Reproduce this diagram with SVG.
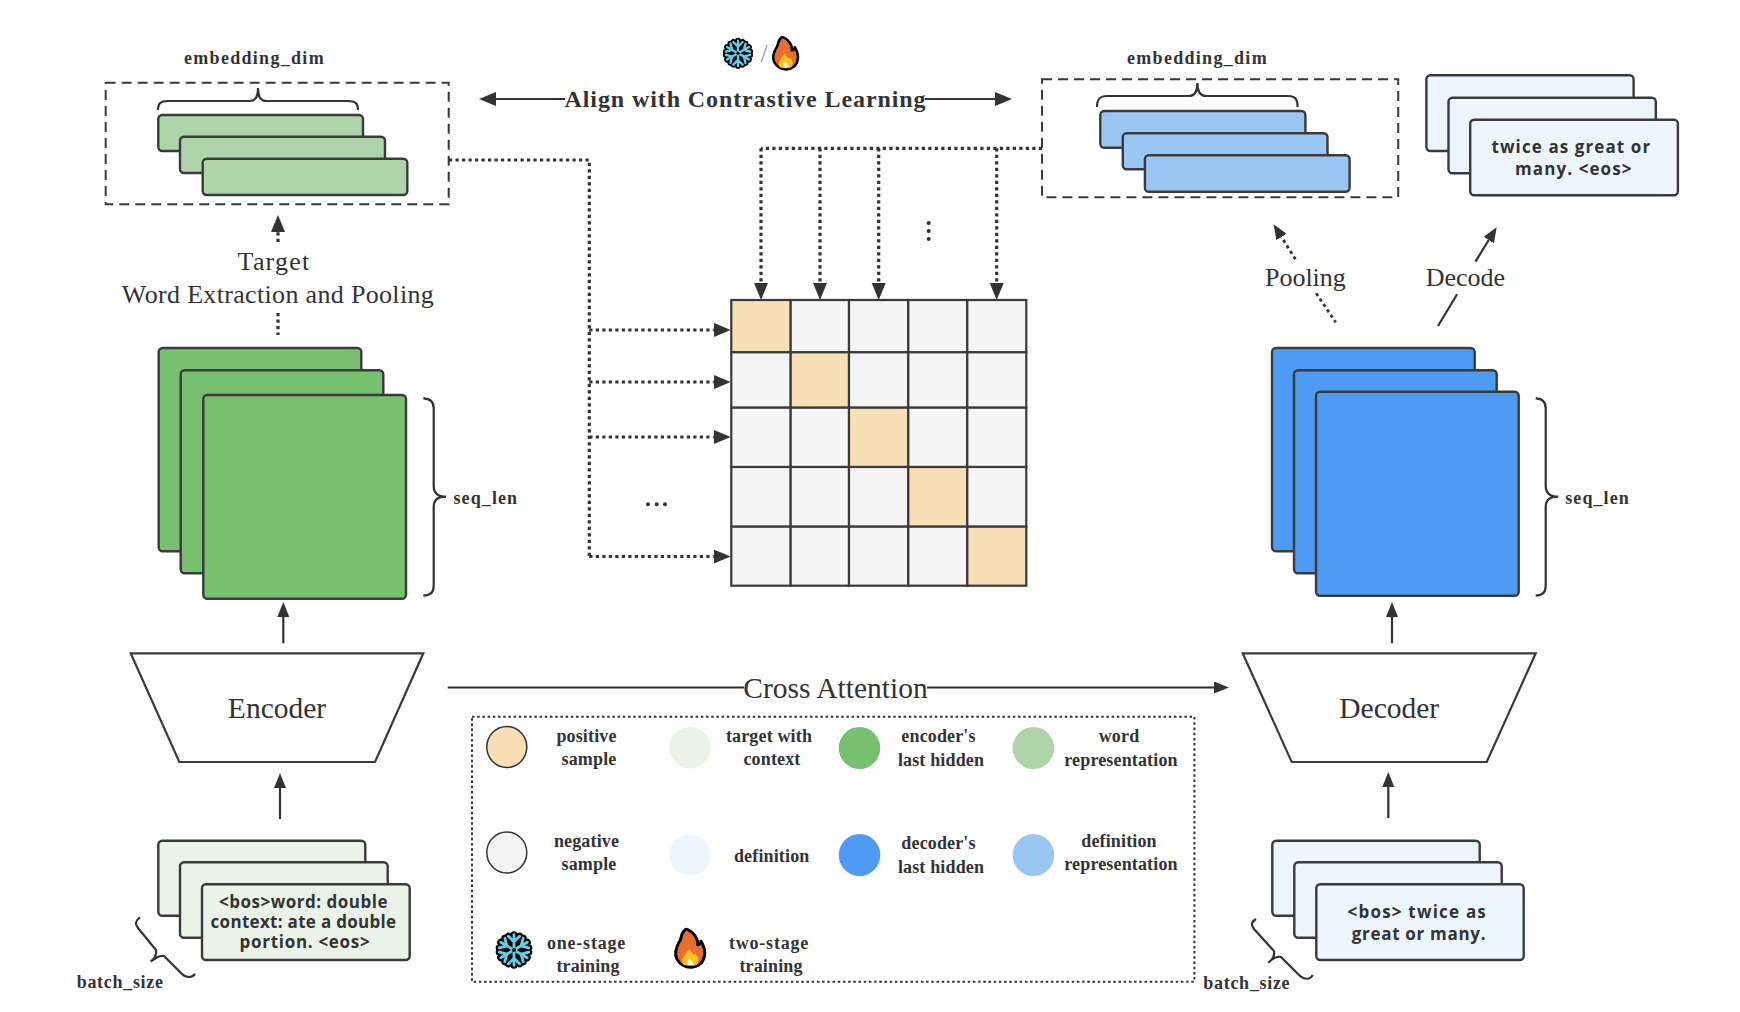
<svg xmlns="http://www.w3.org/2000/svg" width="1740" height="1012" viewBox="0 0 1740 1012">
<style>
text{font-family:"Liberation Serif","Times New Roman",serif;fill:#333}
.b{font-weight:bold;font-size:18px;letter-spacing:1.3px}
.lg{font-weight:bold;font-size:18px;letter-spacing:.15px;text-anchor:middle}
.t{font-size:26px;text-anchor:middle}
.big{font-size:29.5px;text-anchor:middle}
.s{font-family:"Open Sans","Noto Sans",sans-serif;font-weight:bold;font-size:17px;letter-spacing:.7px;text-anchor:middle}
.r{stroke:#3a3a3a;stroke-width:2.4}
.line{fill:none;stroke:#333;stroke-width:2.2}
.dot{fill:none;stroke:#333;stroke-width:3.2;stroke-dasharray:3.2 3.3}
.brace{fill:none;stroke:#333;stroke-width:2.2}
.dash{fill:none;stroke:#3a3a3a;stroke-width:2;stroke-dasharray:10 6}
.trap{fill:#fff;stroke:#3a3a3a;stroke-width:2.2}
.pos{fill:#f9dfb6}.neg{fill:#f5f5f5}.ctx{fill:#ebf3e9}.enc{fill:#76c06f}.wrd{fill:#add5a9}.def{fill:#edf5fe}.dec{fill:#4d9bf2}.drp{fill:#9ac6f3}
.cell{stroke:#3a3a3a;stroke-width:2.2}
</style>
<defs>
<marker id="arr" markerUnits="userSpaceOnUse" markerWidth="20" markerHeight="16" refX="0" refY="7" orient="auto"><path d="M0,0L17,7L0,14z" fill="#333"/></marker>
<marker id="arrS" markerUnits="userSpaceOnUse" markerWidth="18" markerHeight="14" refX="0" refY="6" orient="auto"><path d="M0,0L15,6L0,12z" fill="#333"/></marker>
<g id="armB"><path d="M0,-15V15M-5.500,-13.500L0,-8L5.500,-13.500M-5.500,13.500L0,8L5.500,13.500"/></g>
<g id="snow">
<g fill="none" stroke="#000" stroke-width="7" stroke-linecap="round" stroke-linejoin="round">
<use href="#armB"/><use href="#armB" transform="rotate(60)"/><use href="#armB" transform="rotate(120)"/>
</g>
<circle r="10" fill="#000"/>
<g fill="none" stroke="#5fd0ea" stroke-width="2.800" stroke-linecap="round">
<use href="#armB"/><use href="#armB" transform="rotate(60)"/><use href="#armB" transform="rotate(120)"/>
</g>
<circle r="2" fill="#000"/>
</g>
<g id="fire" transform="scale(1.15,1)">
<path d="M-3,-19C-9,-14-6,-9-9,-6C-12,0-13,6-11,11C-8,17-3,19.500,1,19.500C7,19.500,12,15,13,8C14,3,12,-3,10,-7C10,-4,8,-3,7,-3C8,-9,3,-17,-3,-19Z" fill="#e76f2e" stroke="#000" stroke-width="2.600" stroke-linejoin="round"/>
<path d="M0,1C-5,7-8,12-5,17L6,17C9,13,8,8,5,6C3,7,2,5,0,1Z" fill="#fcc21b"/>
<path d="M0,10C-2,12-3,15-1,17L3,17C4,15,2,12,0,10Z" fill="#fff6cc"/>
</g>
</defs>
<rect width="1740" height="1012" fill="#fff"/>

<g id="connectors">
<path class="dot" d="M449,160H589.300V557"/>
<path class="dot" d="M589.300,330H713.700" marker-end="url(#arr)"/>
<path class="dot" d="M589.300,382H713.700" marker-end="url(#arr)"/>
<path class="dot" d="M589.300,437H713.700" marker-end="url(#arr)"/>
<path class="dot" d="M589.300,556.500H713.700" marker-end="url(#arr)"/>
<path class="dot" d="M1042,148.300H761"/>
<path class="dot" d="M761,148.300V283" marker-end="url(#arr)"/>
<path class="dot" d="M820,148.300V283" marker-end="url(#arr)"/>
<path class="dot" d="M878.700,148.300V283" marker-end="url(#arr)"/>
<path class="dot" d="M996.700,148.300V283" marker-end="url(#arr)"/>
<path class="line" d="M565,99H496" marker-end="url(#arr)"/>
<path class="line" d="M925,99H995" marker-end="url(#arr)"/>
<path class="dot" d="M278,242V232" marker-end="url(#arr)"/>
<path class="dot" d="M278,313V335"/>
<path class="line" d="M283.300,643.300V617" marker-end="url(#arrS)"/>
<path class="line" d="M1392,643.300V617" marker-end="url(#arrS)"/>
<path class="line" d="M280,819V788" marker-end="url(#arrS)"/>
<path class="line" d="M1388.300,818V787" marker-end="url(#arrS)"/>
<path class="line" d="M447.700,687.500H744"/>
<path class="line" d="M927,687.500H1214" marker-end="url(#arrS)"/>
<path class="dot" style="stroke-width:2.800" d="M1295.400,259.300L1281.500,237" marker-end="url(#arrS)"/>
<path class="dot" style="stroke-width:2.800" d="M1316.200,293.300L1335.700,322.300"/>
<path class="line" d="M1475.400,261.700L1488.800,240" marker-end="url(#arrS)"/>
<path class="line" d="M1457.100,294.300L1438,326"/>
</g>

<g id="target-embeddings">
<text class="b" x="184" y="64">embedding_dim</text>
<rect class="dash" x="105.700" y="82.700" width="343" height="121.600"/>
<path class="brace" d="M158,110C158,103,161,101,168,101L250,101C255,101,258,97,258,88C258,97,261,101,266,101L348,101C355,101,358,103,358,110"/>
<rect class="r wrd" x="158.300" y="115" width="204.700" height="36" rx="4"/>
<rect class="r wrd" x="180" y="136.700" width="205" height="36.300" rx="4"/>
<rect class="r wrd" x="202.700" y="158.700" width="204.600" height="36.300" rx="4"/>
</g>

<g id="definition-embeddings">
<text class="b" x="1127" y="63.500">embedding_dim</text>
<rect class="dash" x="1042" y="79.300" width="356.200" height="118"/>
<path class="brace" d="M1097,107C1097,99,1100,96,1107,96L1189,96C1194,96,1197.400,92,1197.400,83C1197.400,92,1201,96,1206,96L1288,96C1295,96,1297.600,99,1297.600,107"/>
<rect class="r drp" x="1100.300" y="111" width="205.100" height="36.700" rx="4"/>
<rect class="r drp" x="1122.800" y="133.300" width="204.700" height="36" rx="4"/>
<rect class="r drp" x="1144.900" y="155.300" width="204.700" height="36.400" rx="4"/>
</g>

<g id="output-definition">
<rect class="r def" x="1426.400" y="75.300" width="207.200" height="75.700" rx="4"/>
<rect class="r def" x="1448.500" y="97.700" width="207.300" height="75.600" rx="4"/>
<rect class="r def" x="1470.200" y="119.700" width="207.700" height="75.600" rx="4"/>
<text class="s" style="letter-spacing:1.1px" x="1571.400" y="152.700">twice as great or</text>
<text class="s" style="letter-spacing:1.1px" x="1573.800" y="174.700">many. &lt;eos&gt;</text>
</g>

<g id="title">
<use href="#snow" transform="translate(738,53.300) scale(.84)"/>
<text x="764" y="62" font-size="26" text-anchor="middle" style="fill:#999">/</text>
<use href="#fire" transform="translate(785,53) scale(.85)"/>
<text x="745.500" y="107" font-size="24" font-weight="bold" text-anchor="middle" letter-spacing=".9">Align with Contrastive Learning</text>
</g>

<g id="similarity-matrix">
<rect class="cell pos" x="731.300" y="300" width="59.400" height="52.300"/>
<rect class="cell neg" x="790.700" y="300" width="58.300" height="52.300"/>
<rect class="cell neg" x="849" y="300" width="59.300" height="52.300"/>
<rect class="cell neg" x="908.300" y="300" width="59" height="52.300"/>
<rect class="cell neg" x="967.300" y="300" width="59" height="52.300"/>
<rect class="cell neg" x="731.300" y="352.300" width="59.400" height="55.400"/>
<rect class="cell pos" x="790.700" y="352.300" width="58.300" height="55.400"/>
<rect class="cell neg" x="849" y="352.300" width="59.300" height="55.400"/>
<rect class="cell neg" x="908.300" y="352.300" width="59" height="55.400"/>
<rect class="cell neg" x="967.300" y="352.300" width="59" height="55.400"/>
<rect class="cell neg" x="731.300" y="407.700" width="59.400" height="59.300"/>
<rect class="cell neg" x="790.700" y="407.700" width="58.300" height="59.300"/>
<rect class="cell pos" x="849" y="407.700" width="59.300" height="59.300"/>
<rect class="cell neg" x="908.300" y="407.700" width="59" height="59.300"/>
<rect class="cell neg" x="967.300" y="407.700" width="59" height="59.300"/>
<rect class="cell neg" x="731.300" y="467" width="59.400" height="59.700"/>
<rect class="cell neg" x="790.700" y="467" width="58.300" height="59.700"/>
<rect class="cell neg" x="849" y="467" width="59.300" height="59.700"/>
<rect class="cell pos" x="908.300" y="467" width="59" height="59.700"/>
<rect class="cell neg" x="967.300" y="467" width="59" height="59.700"/>
<rect class="cell neg" x="731.300" y="526.700" width="59.400" height="59"/>
<rect class="cell neg" x="790.700" y="526.700" width="58.300" height="59"/>
<rect class="cell neg" x="849" y="526.700" width="59.300" height="59"/>
<rect class="cell neg" x="908.300" y="526.700" width="59" height="59"/>
<rect class="cell pos" x="967.300" y="526.700" width="59" height="59"/>
<g fill="#333"><circle cx="928.700" cy="223" r="2"/><circle cx="928.700" cy="231" r="2"/><circle cx="928.700" cy="239" r="2"/>
<circle cx="648" cy="504.300" r="2"/><circle cx="656.700" cy="504.300" r="2"/><circle cx="665" cy="504.300" r="2"/></g>
</g>

<g id="labels">
<text class="t" style="letter-spacing:1.2px" x="274" y="270">Target</text>
<text class="t" style="letter-spacing:.33px" x="278" y="303">Word Extraction and Pooling</text>
<text class="t" x="1305.400" y="286">Pooling</text>
<text class="t" x="1465.400" y="286">Decode</text>
<text class="big" x="835.500" y="698">Cross Attention</text>
</g>

<g id="encoder-hidden">
<rect class="r enc" x="158.700" y="348" width="202.600" height="203.300" rx="4"/>
<rect class="r enc" x="180.700" y="370.300" width="202.600" height="203" rx="4"/>
<rect class="r enc" x="203.300" y="395" width="202.700" height="203.700" rx="4"/>
<path class="brace" d="M423.300,398.300C430,398.500,433.700,401,433.700,408L433.700,486C433.700,493,438,496.700,446,496.700C438,496.700,433.700,500,433.700,507L433.700,586C433.700,593,430,595.500,423.300,595.700"/>
<text class="b" style="letter-spacing:1.1px" x="453.500" y="504">seq_len</text>
</g>

<g id="decoder-hidden">
<rect class="r dec" x="1272" y="348" width="202.700" height="203.300" rx="4"/>
<rect class="r dec" x="1294" y="370.300" width="202.700" height="203" rx="4"/>
<rect class="r dec" x="1316" y="391.700" width="202.700" height="204" rx="4"/>
<path class="brace" d="M1535.700,398.300C1542,398.500,1545.700,401,1545.700,408L1545.700,486C1545.700,493,1550,496.700,1558.300,496.700C1550,496.700,1545.700,500,1545.700,507L1545.700,586C1545.700,593,1542,595.500,1535.700,595.700"/>
<text class="b" style="letter-spacing:1.1px" x="1565.200" y="504">seq_len</text>
</g>

<g id="encoder">
<path class="trap" d="M130.700,653.300H423.300L375,762H179.300z"/>
<text class="big" x="277" y="718.300">Encoder</text>
</g>

<g id="decoder">
<path class="trap" d="M1242.700,653.300H1535.700L1486.700,762H1291.700z"/>
<text class="big" x="1389.200" y="718.300">Decoder</text>
</g>

<g id="encoder-input">
<rect class="r ctx" x="158.300" y="840.700" width="207" height="75" rx="4"/>
<rect class="r ctx" x="180" y="862.300" width="207.700" height="75.400" rx="4"/>
<rect class="r ctx" x="202" y="884.300" width="207.700" height="75.700" rx="4"/>
<text class="s" style="letter-spacing:.5px" x="303.500" y="907.700">&lt;bos&gt;word: double</text>
<text class="s" style="letter-spacing:.3px" x="303.500" y="927.700">context: ate a double</text>
<text class="s" x="305" y="947.700">portion. &lt;eos&gt;</text>
<path class="brace" d="M140,917.300C135,921,135,924,138,928L156,950C157,955,154,959,150.700,961.700C155,958,160,955,164,956L182,974C186,978,192,978,195,974"/>
<text class="b" style="letter-spacing:.7px" x="76.700" y="987.800">batch_size</text>
</g>

<g id="decoder-input">
<rect class="r def" x="1272.300" y="840.700" width="207.400" height="75" rx="4"/>
<rect class="r def" x="1294.300" y="862.300" width="207.400" height="75.400" rx="4"/>
<rect class="r def" x="1316.300" y="884.300" width="207.400" height="75.700" rx="4"/>
<text class="s" style="letter-spacing:1.2px" x="1417.300" y="917.700">&lt;bos&gt; twice as</text>
<text class="s" x="1419" y="940">great or many.</text>
<path class="brace" d="M1256,919C1251,922,1251,925,1254,929L1274,951C1275,956,1272,960,1268.300,962.700C1272,959,1277,956,1281,957L1299,975C1304,980,1310,980,1312.700,975"/>
<text class="b" style="letter-spacing:.7px" x="1203.300" y="989.300">batch_size</text>
</g>

<g id="legend">
<rect x="472" y="716.700" width="722.400" height="265" fill="none" stroke="#333" stroke-width="2" stroke-dasharray="2.500 2.700"/>
<ellipse class="pos" cx="506.800" cy="747" rx="20" ry="20.500" stroke="#333" stroke-width="1.500"/>
<text class="lg" x="586.500" y="741.700">positive</text><text class="lg" x="589" y="765">sample</text>
<ellipse class="neg" cx="506.800" cy="852.500" rx="20" ry="20.500" stroke="#333" stroke-width="1.500"/>
<text class="lg" x="586.500" y="846.700">negative</text><text class="lg" x="589" y="870">sample</text>
<ellipse class="ctx" cx="690" cy="747.700" rx="20.700" ry="20.700"/>
<text class="lg" x="769" y="741.700">target with</text><text class="lg" x="772" y="765">context</text>
<ellipse class="def" cx="690" cy="855" rx="20.700" ry="20.700"/>
<text class="lg" x="771.700" y="861.700">definition</text>
<ellipse class="enc" cx="859.500" cy="748" rx="20.800" ry="21"/>
<text class="lg" x="938.500" y="741.700">encoder's</text><text class="lg" x="941" y="766">last hidden</text>
<ellipse class="dec" cx="859.500" cy="855" rx="20.800" ry="21"/>
<text class="lg" x="938.500" y="849.300">decoder's</text><text class="lg" x="941" y="873.300">last hidden</text>
<ellipse class="wrd" cx="1033.400" cy="748" rx="20.800" ry="21"/>
<text class="lg" x="1119" y="741.700">word</text><text class="lg" x="1121" y="766">representation</text>
<ellipse class="drp" cx="1033.400" cy="855" rx="20.800" ry="21"/>
<text class="lg" x="1119" y="846.700">definition</text><text class="lg" x="1121" y="870">representation</text>
<use href="#snow" transform="translate(514,950) scale(1.02)"/>
<text class="lg" x="586.500" y="949" style="letter-spacing:.8px">one-stage</text><text class="lg" x="588" y="971.700">training</text>
<use href="#fire" transform="translate(689.500,948)"/>
<text class="lg" x="769" y="949" style="letter-spacing:.8px">two-stage</text><text class="lg" x="771" y="971.700">training</text>
</g>
</svg>
